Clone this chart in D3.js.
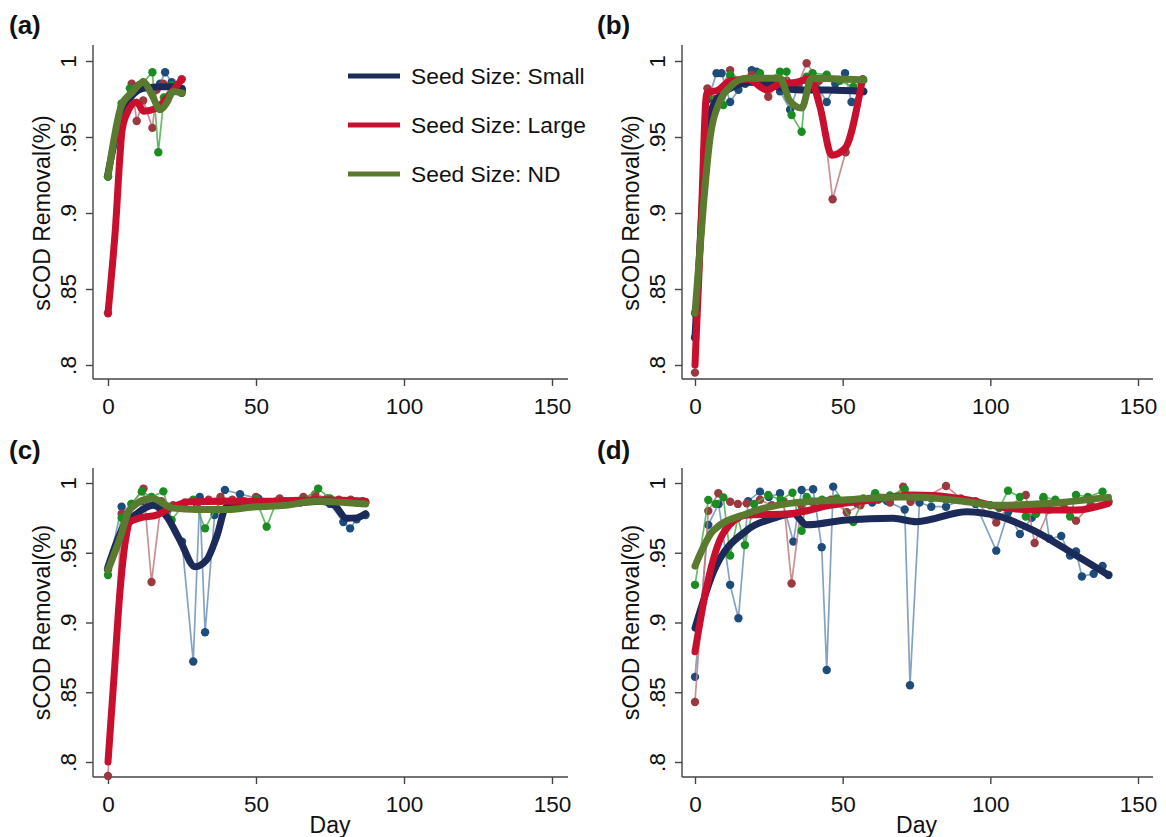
<!DOCTYPE html>
<html>
<head>
<meta charset="utf-8">
<script src="https://cdn.jsdelivr.net/npm/d3@7"></script>
<style>
  body { margin: 0; background: #fff; }
  svg { display: block; }
  text { font-family: "Liberation Sans", Arial, sans-serif; fill: #111; }
</style>
</head>
<body>
<svg id="chart" width="1166" height="837"></svg>
<script>
// ---- series labels and tick labels ----
const seriesNames = ["Seed Size: Small", "Seed Size: Large", "Seed Size: ND"];
const panelLabels = ["(a)", "(b)", "(c)", "(d)"];
const yTicks = [0.8, 0.85, 0.9, 0.95, 1];
const yTickLabels = [".8", ".85", ".9", ".95", "1"];
const xTicks = [0, 50, 100, 150];
const yTitle = "sCOD Removal(%)";
const xTitle = "Day";

// ---- (a) observations [day, removal] and smoothed trends ----
const aSmallObs = [[0,0.924],[4.6,0.970],[8,0.979],[10.5,0.984],[12.5,0.983],[15,0.980],[17.6,0.985],[19.3,0.9926],[21.5,0.986],[23.5,0.984],[25,0.981]];
const aSmallFit = [[0,0.926],[5,0.968],[8,0.977],[12,0.982],[18,0.983],[22,0.983],[25,0.982]];
const aLargeObs = [[0,0.834],[4.6,0.962],[8,0.985],[9.7,0.9605],[11.9,0.974],[15,0.956],[16.4,0.981],[18.7,0.985],[21.6,0.983],[24.9,0.988]];
const aLargeFit = [[0,0.834],[2.4,0.887],[4.8,0.955],[6.3,0.965],[9.7,0.973],[12,0.967],[16.4,0.969],[20,0.976],[25,0.988]];
const aNdObs = [[0,0.924],[4.6,0.972],[7.4,0.982],[11.9,0.986],[15,0.9926],[17,0.940],[18.9,0.976],[21.5,0.984],[24.9,0.979]];
const aNdFit = [[0,0.924],[4.6,0.971],[8,0.979],[12,0.986],[15,0.977],[17.6,0.968],[20,0.973],[22,0.980],[25,0.979]];

// ---- (b) ----
const bSmallObs = [[0,0.818],[4.5,0.975],[7.3,0.992],[9,0.992],[11.9,0.973],[14.7,0.981],[17,0.985],[19.2,0.994],[20.9,0.993],[25.4,0.986],[28.8,0.980],[32.2,0.968],[35,0.984],[38,0.987],[41,0.985],[44.6,0.973],[47.5,0.985],[50.8,0.992],[53,0.973],[57,0.980]];
const bSmallFit = [[0,0.818],[2,0.89],[4,0.95],[6,0.970],[9,0.978],[13,0.983],[18,0.986],[25,0.985],[30,0.982],[36,0.981],[45,0.981],[57,0.980]];
const bLargeObs = [[0,0.795],[4.2,0.982],[7,0.975],[11.9,0.994],[15,0.987],[19.2,0.991],[22,0.984],[24.8,0.9765],[28,0.985],[31,0.987],[35,0.985],[37.8,0.9985],[42,0.987],[46.6,0.909],[51,0.940],[56.8,0.988]];
const bLargeFit = [[0,0.800],[2,0.89],[4,0.979],[8,0.981],[12,0.987],[18,0.988],[24.3,0.981],[28.8,0.985],[34.4,0.986],[38.9,0.9886],[42.3,0.970],[46.3,0.938],[50.8,0.9426],[56.4,0.985]];
const bNdObs = [[0,0.834],[4.5,0.977],[9.6,0.971],[11.9,0.9908],[16,0.987],[22,0.992],[25,0.988],[28.8,0.993],[31,0.993],[32.7,0.9645],[36.1,0.9535],[37.8,0.9897],[39.8,0.992],[44.6,0.991],[49,0.987],[53.6,0.983],[57,0.9875]];
const bNdFit = [[0,0.834],[2.8,0.904],[5,0.948],[8.5,0.974],[11.9,0.983],[17.5,0.9886],[28.8,0.9886],[32,0.974],[36.1,0.969],[39.5,0.9886],[57,0.9875]];

// ---- (c) ----
const cSmallObs = [[0,0.938],[4.6,0.983],[9,0.975],[12,0.987],[16,0.985],[20,0.980],[25,0.958],[28.8,0.872],[31,0.990],[32.8,0.893],[36,0.977],[39.5,0.995],[44.6,0.992],[50.8,0.989],[55,0.985],[60,0.987],[65,0.986],[70,0.990],[75,0.985],[79.5,0.972],[81.8,0.9675],[84,0.974],[87,0.977]];
const cSmallFit = [[0,0.940],[5.2,0.9687],[9.7,0.978],[15.3,0.984],[19.8,0.976],[24.3,0.959],[29.4,0.940],[33.3,0.9448],[36.7,0.9615],[40,0.983],[45,0.986],[55,0.985],[65,0.986],[72,0.987],[76.5,0.984],[80.6,0.9747],[84,0.975],[87,0.978]];
const cLargeObs = [[0,0.790],[4.6,0.978],[8,0.985],[12,0.996],[14.7,0.929],[18,0.987],[22,0.984],[26,0.986],[30,0.985],[34,0.988],[38,0.990],[42,0.988],[46,0.987],[50,0.990],[54,0.986],[58,0.989],[62,0.987],[66,0.990],[70,0.992],[74,0.989],[78,0.988],[82,0.988],[86,0.987]];
const cLargeFit = [[0,0.800],[2,0.86],[4,0.921],[6,0.960],[7.4,0.972],[10.8,0.975],[16.4,0.977],[21,0.982],[27.7,0.9866],[40,0.987],[55,0.987],[70,0.988],[87,0.987]];
const cNdObs = [[0,0.934],[4.6,0.975],[7.9,0.985],[11.4,0.9938],[14.7,0.990],[18.7,0.994],[21.5,0.9735],[25,0.983],[28.8,0.988],[32.8,0.9675],[37.8,0.987],[42,0.985],[46,0.986],[50,0.988],[53.6,0.9687],[57,0.987],[62,0.986],[66,0.988],[71,0.996],[75,0.989],[80,0.987],[84,0.986],[87,0.986]];
const cNdFit = [[0,0.9376],[4,0.960],[7.4,0.981],[14.7,0.989],[22,0.982],[30,0.981],[40,0.981],[50,0.983],[60,0.984],[70,0.987],[80,0.986],[87,0.985]];

// ---- (d) ----
const dSmallObs = [[0,0.861],[4.5,0.970],[8,0.985],[11.9,0.927],[14.7,0.903],[18,0.987],[22,0.9938],[25,0.990],[28.8,0.9926],[33.3,0.958],[36.1,0.995],[40,0.9955],[42.9,0.954],[44.6,0.866],[46.8,0.9974],[50,0.987],[55,0.985],[60,0.986],[65,0.987],[71,0.981],[72.8,0.855],[76,0.986],[80,0.983],[85,0.983],[90,0.988],[95,0.985],[102,0.9515],[106,0.979],[110,0.9634],[114,0.975],[118,0.989],[120,0.960],[124,0.962],[127,0.948],[129,0.951],[131,0.933],[135,0.935],[138,0.9405],[140,0.934]];
const dSmallFit = [[0,0.896],[6.2,0.936],[17.5,0.966],[27,0.975],[33.3,0.978],[37.8,0.970],[51.4,0.9735],[67,0.9747],[75,0.9723],[92,0.9794],[103,0.976],[114.6,0.966],[126,0.952],[140,0.934]];
const dLargeObs = [[0,0.843],[4.5,0.980],[7.9,0.9926],[11.9,0.9866],[14.5,0.985],[17.5,0.9854],[22,0.988],[26,0.984],[30,0.987],[32.7,0.928],[36,0.984],[40,0.986],[46,0.988],[51.4,0.979],[56,0.984],[62,0.988],[66,0.986],[70.5,0.9974],[73,0.9866],[78,0.990],[85,0.9978],[90,0.989],[95,0.987],[102,0.9716],[106,0.983],[112,0.9914],[115,0.957],[120,0.981],[125,0.982],[129,0.973],[134,0.984],[140,0.9866]];
const dLargeFit = [[0,0.879],[4,0.926],[9.6,0.964],[17.5,0.977],[32,0.978],[45.7,0.984],[60,0.988],[74,0.9914],[80.7,0.991],[92,0.988],[103,0.983],[114.6,0.9806],[129,0.9806],[140,0.9854]];
const dNdObs = [[0,0.927],[4.5,0.9878],[7,0.985],[9.6,0.9897],[11.9,0.948],[14.5,0.975],[16.9,0.9555],[20,0.985],[24.8,0.9914],[29,0.988],[33,0.993],[36.1,0.9658],[37.8,0.990],[43,0.988],[48,0.989],[53.6,0.972],[57,0.989],[61,0.9926],[66,0.991],[71,0.9955],[75,0.990],[80,0.989],[85,0.988],[90,0.988],[95,0.986],[100,0.984],[103,0.982],[106,0.9945],[110,0.990],[112,0.976],[115.5,0.978],[118,0.990],[122,0.988],[127,0.976],[129,0.9914],[133,0.990],[138,0.9938],[140,0.9866]];
const dNdFit = [[0,0.9405],[6.2,0.966],[17.5,0.978],[32,0.9854],[51.4,0.988],[69.4,0.990],[74,0.990],[92,0.9866],[102,0.984],[120,0.9854],[140,0.9897]];

// ---- colours per seed size: trend line, markers, connecting line ----
const fitColors   = ["#1c2a5a", "#c8102e", "#5a7a30"];
const pointColors = ["#1d4b7a", "#9a3a40", "#1a8c22"];
const thinColors  = ["#6f92b8", "#c27a80", "#4caf4c"];

const panelData = [
  { obs: [aSmallObs, aLargeObs, aNdObs], fit: [aSmallFit, aLargeFit, aNdFit] },
  { obs: [bSmallObs, bLargeObs, bNdObs], fit: [bSmallFit, bLargeFit, bNdFit] },
  { obs: [cSmallObs, cLargeObs, cNdObs], fit: [cSmallFit, cLargeFit, cNdFit] },
  { obs: [dSmallObs, dLargeObs, dNdObs], fit: [dSmallFit, dLargeFit, dNdFit] }
];

// ---- panel geometry (pixels) ----
const cols = [
  { axisX: 93,  x0: 108, x150: 552,  xEnd: 568,  labelX: 9 },
  { axisX: 682, x0: 695, x150: 1138, xEnd: 1153, labelX: 597 }
];
const rows = [
  { y1: 61,  y08: 365, yTop: 45,  yBot: 379, labelY: 34,  showTitle: false },
  { y1: 483, y08: 762, yTop: 468, yBot: 777, labelY: 459, showTitle: true }
];

const svg = d3.select("#chart");

panelData.forEach((pd, idx) => {
  const col = cols[idx % 2], row = rows[Math.floor(idx / 2)];
  const x = d3.scaleLinear().domain([0, 150]).range([col.x0, col.x150]);
  const y = d3.scaleLinear().domain([0.8, 1]).range([row.y08, row.y1]);
  const g = svg.append("g");

  // panel letter
  g.append("text").attr("x", col.labelX).attr("y", row.labelY)
    .attr("font-size", 26).attr("font-weight", "bold").text(panelLabels[idx]);

  // y axis
  const yAx = g.append("g").attr("transform", `translate(${col.axisX},0)`)
    .call(d3.axisLeft(y).tickValues(yTicks).tickSize(7).tickSizeOuter(0)
      .tickFormat((d, i) => yTickLabels[i]));
  yAx.select(".domain").remove();
  yAx.append("line").attr("x1", 0).attr("x2", 0).attr("y1", row.yTop).attr("y2", row.yBot);
  yAx.selectAll("line").attr("stroke", "#444").attr("stroke-width", 1.4);
  yAx.selectAll(".tick text")
    .attr("x", null).attr("dy", null)
    .attr("transform", "translate(-17,0) rotate(-90)")
    .attr("text-anchor", "middle")
    .attr("font-size", 22.5).attr("font-family", null).attr("fill", "#111");

  // x axis
  const xAx = g.append("g").attr("transform", `translate(0,${row.yBot})`)
    .call(d3.axisBottom(x).tickValues(xTicks).tickSize(7).tickSizeOuter(0));
  xAx.select(".domain").remove();
  xAx.append("line").attr("x1", col.axisX).attr("x2", col.xEnd).attr("y1", 0).attr("y2", 0);
  xAx.selectAll("line").attr("stroke", "#444").attr("stroke-width", 1.4);
  xAx.selectAll(".tick text")
    .attr("y", 35).attr("dy", null)
    .attr("font-size", 22.5).attr("font-family", null).attr("fill", "#111");

  // axis titles
  const cy = (row.y1 + row.y08) / 2;
  g.append("text")
    .attr("transform", `translate(${col.axisX - 43},${cy}) rotate(-90)`)
    .attr("text-anchor", "middle").attr("font-size", 23).text(yTitle);
  if (row.showTitle) {
    g.append("text").attr("x", (col.x0 + col.x150) / 2).attr("y", row.yBot + 56)
      .attr("text-anchor", "middle").attr("font-size", 23).text(xTitle);
  }

  // observed values: thin connecting line + markers
  const thin = d3.line().x(d => x(d[0])).y(d => y(d[1]));
  pd.obs.forEach((series, i) => {
    g.append("path").datum(series).attr("d", thin)
      .attr("fill", "none").attr("stroke", thinColors[i])
      .attr("stroke-width", 1.7).attr("stroke-opacity", 0.85);
    g.selectAll(null).data(series).enter().append("circle")
      .attr("cx", d => x(d[0])).attr("cy", d => y(d[1])).attr("r", 4.2)
      .attr("fill", pointColors[i]);
  });

  // smoothed trends
  const thick = d3.line().x(d => x(d[0])).y(d => y(d[1])).curve(d3.curveMonotoneX);
  pd.fit.forEach((series, i) => {
    g.append("path").datum(series).attr("d", thick)
      .attr("fill", "none").attr("stroke", fitColors[i])
      .attr("stroke-width", 7).attr("stroke-linecap", "round").attr("stroke-linejoin", "round");
  });

  // legend lives in panel (a)
  if (idx === 0) {
    const lg = g.append("g");
    const ly = d3.scalePoint().domain(seriesNames).range([76, 174]);
    seriesNames.forEach((name, i) => {
      lg.append("line").attr("x1", 348).attr("x2", 400)
        .attr("y1", ly(name)).attr("y2", ly(name))
        .attr("stroke", fitColors[i]).attr("stroke-width", 5);
      lg.append("text").attr("x", 411).attr("y", ly(name) + 8)
        .attr("font-size", 22.8).text(name);
    });
  }
});
</script>
</body>
</html>
